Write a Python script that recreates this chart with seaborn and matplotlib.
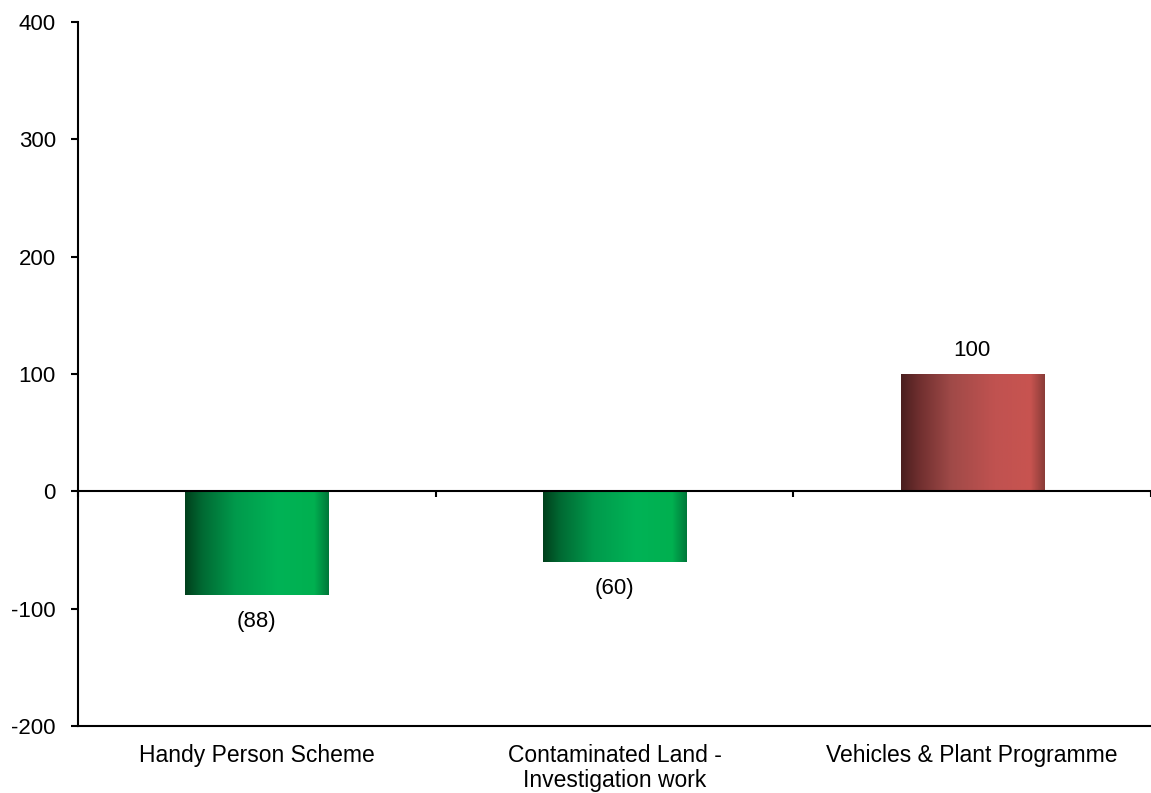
import numpy as np
import pandas as pd
import matplotlib
matplotlib.use("Agg")
import matplotlib.pyplot as plt
import seaborn as sns
from matplotlib.colors import LinearSegmentedColormap

categories = ["Handy Person Scheme", "Contaminated Land -\nInvestigation work", "Vehicles & Plant Programme"]
values = [-88, -60, 100]
value_labels = ["(88)", "(60)", "100"]
y_ticks = [-200, -100, 0, 100, 200, 300, 400]

sns.set_theme(style="white")
plt.rcParams["font.family"] = ["Liberation Sans", "DejaVu Sans"]
FS = 16

fig = plt.figure(figsize=(11.51, 7.93), dpi=100)
ax = fig.add_axes([0.0678, 0.0845, 0.9322, 0.8878])

df = pd.DataFrame({"category": categories, "value": values})
sns.barplot(data=df, x="category", y="value", ax=ax, width=0.4,
            color="#00b050", saturation=1, edgecolor="none")

green = LinearSegmentedColormap.from_list("g", [
    (0.0, "#00401c"), (0.12, "#006a33"), (0.35, "#009a4c"),
    (0.65, "#00b356"), (0.9, "#00b050"), (1.0, "#00783a")])
red = LinearSegmentedColormap.from_list("r", [
    (0.0, "#4a1f1f"), (0.12, "#6e2e2e"), (0.35, "#a04a48"),
    (0.65, "#c05250"), (0.9, "#c85450"), (1.0, "#8a3c38")])

grad = np.linspace(0, 1, 256).reshape(1, -1)
for patch, v in zip(ax.patches, values):
    x0, y0 = patch.get_x(), patch.get_y()
    w, h = patch.get_width(), patch.get_height()
    cmap = red if v > 0 else green
    im = ax.imshow(grad, cmap=cmap, aspect="auto",
                   extent=[x0, x0 + w, min(y0, y0 + h), max(y0, y0 + h)],
                   zorder=patch.get_zorder() + 0.1)
    im.set_clip_path(patch)

ax.set_xlim(-0.5, 2.5)
ax.set_ylim(-200, 400)
ax.set_yticks(y_ticks)
ax.set_yticklabels([str(t) for t in y_ticks])

# value labels
for i, (v, lab) in enumerate(zip(values, value_labels)):
    off = 9 if v > 0 else -12
    ax.annotate(lab, (i, v), xytext=(0, off), textcoords="offset points",
                ha="center", va="bottom" if v > 0 else "top", fontsize=FS,
                color="black")

# zero line with category boundary ticks
ax.axhline(0, color="black", lw=1.5, zorder=5)
sec = ax.secondary_xaxis(200 / 600)
sec.set_xticks([-0.5, 0.5, 1.5, 2.5])
sec.set_xticklabels([])
sec.tick_params(axis="x", direction="out", length=4, width=1.5, color="black")
sec.spines["bottom"].set_visible(False)
sec.spines["top"].set_visible(False)

for s in ["top", "right"]:
    ax.spines[s].set_visible(False)
for s in ["left", "bottom"]:
    ax.spines[s].set_color("black")
    ax.spines[s].set_linewidth(1.5)

ax.tick_params(axis="y", left=True, direction="out", length=5, width=1.5,
               color="black", labelsize=FS, pad=11, labelcolor="black")
ax.tick_params(axis="x", bottom=False, labelsize=16.5, pad=7, labelcolor="black")
for t in ax.get_xticklabels():
    t.set_linespacing(1.1)
ax.set_xlabel("")
ax.set_ylabel("")
ax.grid(False)

fig.savefig("out.png", dpi=100, facecolor="white")
